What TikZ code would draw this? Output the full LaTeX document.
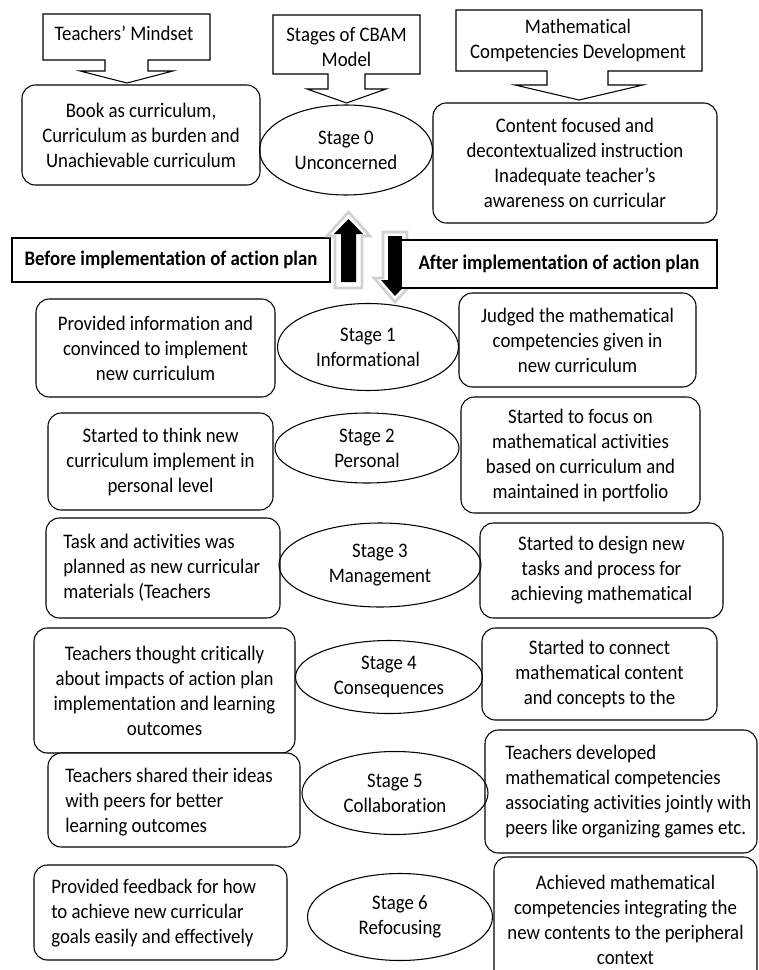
\documentclass[tikz,border=0pt]{standalone}
\usepackage{fontspec}
\setmainfont{Carlito}[FakeStretch=0.91, Ligatures={TeX,NoCommon}]
\usetikzlibrary{shapes.geometric}
\tikzset{
  every node/.style={font=\fontsize{15.5}{18.75}\selectfont, inner sep=0pt},
  sz/.style 2 args={minimum width=#1*0.75pt, minimum height=#2*0.75pt},
  rbox/.style={draw, line width=0.8pt, rounded corners=10pt, align=center},
  frame/.style={draw, line width=0.8pt, rounded corners=10pt},
  ltext/.style={anchor=west, align=left},
  stage/.style={draw, line width=0.8pt, ellipse, align=center},
  callout/.style={draw, line width=0.8pt, fill=white},
  plainbox/.style={draw, line width=0.8pt, fill=white, font=\fontsize{15.5}{18.75}\selectfont\bfseries},
  blkarrow/.style={fill=black},
  bevel/.style={draw=gray!35, line width=2pt, fill=white},
}
\begin{document}
\begin{tikzpicture}[x=0.75pt,y=-0.75pt]
\clip (0,0) rectangle (758,970);
\fill[white] (0,0) rectangle (758,970);

% top callouts
\draw[callout] (43,14) -- (210,14) -- (210,60) -- (148,60) -- (148,71) -- (173,71) -- (127,83) -- (80,71) -- (105,71) -- (105,60) -- (43,60) -- cycle;
\node (tm) at (124,33) {Teachers’ Mindset};

\draw[callout] (273,15) -- (420,15) -- (420,74) -- (365,74) -- (365,89) -- (386,89) -- (346.5,103) -- (307,89) -- (328,89) -- (328,74) -- (273,74) -- cycle;
\node[align=center] (cbam) at (346.5,47) {Stages of CBAM\\Model};

\draw[callout] (456,10) -- (702,10) -- (702,71) -- (608,71) -- (608,85) -- (643,85) -- (579,100) -- (515,85) -- (547,85) -- (547,71) -- (456,71) -- cycle;
\node[align=center] (mcd) at (578,40) {Mathematical\\Competencies Development};

% stage 0 row
\node[rbox, sz={238}{100}] (book) at (141,135) {Book as curriculum,\\Curriculum as burden and\\Unachievable curriculum};
\node[stage, sz={173}{90}] (s0) at (346,150) {Stage 0\\Unconcerned};
\node[rbox, sz={284}{120}] (content) at (575,163) {Content focused and\\decontextualized instruction\\Inadequate teacher’s\\awareness on curricular};

% before / after
\node[plainbox, sz={318}{44}] (before) at (171,260) {Before implementation of action plan};
\draw[bevel] (335,288) -- (335,236) -- (327,236) -- (348.5,212) -- (370,236) -- (362,236) -- (362,288) -- cycle;
\fill[blkarrow] (341,282) -- (341,234) -- (334,234) -- (348.5,219) -- (363,234) -- (356,234) -- (356,282) -- cycle;
\draw[bevel] (383,232) -- (407,232) -- (407,278) -- (417,278) -- (395,302) -- (374,278) -- (383,278) -- cycle;
\fill[blkarrow] (388,236) -- (402,236) -- (402,280) -- (410,280) -- (395,296) -- (381,280) -- (388,280) -- cycle;
\node[plainbox, sz={316}{48}] (after) at (559,264) {After implementation of action plan};

% stage 1
\node[rbox, sz={239}{98}] (provided) at (155.5,348) {Provided information and\\convinced to implement\\new curriculum};
\node[stage, sz={181}{87}] (s1) at (368,347) {Stage 1\\Informational};
\node[rbox, sz={237}{94}] (judged) at (577.5,340) {Judged the mathematical\\competencies given in\\new curriculum};

% stage 2
\node[rbox, sz={225}{97}] (think) at (160.5,461.5) {Started to think new\\curriculum implement in\\personal level};
\node[stage, sz={184}{70}] (s2) at (367,448) {Stage 2\\Personal};
\node[rbox, sz={239}{116}] (focus) at (580.5,455) {Started to focus on\\mathematical activities\\based on curriculum and\\maintained in portfolio};

% stage 3
\node[frame, sz={234}{100}] (taskbox) at (163,568) {};
\node[ltext] (task) at (63,568) {Task and activities was\\planned as new curricular\\materials (Teachers};
\node[stage, sz={202}{84}] (s3) at (380,565) {Stage 3\\Management};
\node[rbox, sz={243}{95}] (design) at (601.5,570.5) {Started to design new\\tasks and process for\\achieving mathematical};

% stage 4
\node[rbox, sz={261}{125}] (thought) at (164.5,690.5) {Teachers thought critically\\about impacts of action plan\\implementation and learning\\outcomes};
\node[stage, sz={187}{73}] (s4) at (389,677) {Stage 4\\Consequences};
\node[rbox, sz={235}{92}] (connect) at (599.5,674) {Started to connect\\mathematical content\\and concepts to the};

% stage 5
\node[frame, sz={252}{94}, fill=white] (sharedbox) at (174,800) {};
\node[ltext] (shared) at (65,802) {Teachers shared their ideas\\with peers for better\\learning outcomes};
\node[stage, sz={186}{83}] (s5) at (395,793) {Stage 5\\Collaboration};
\node[frame, sz={272}{123}] (developedbox) at (621,791.5) {};
\node[ltext] (developed) at (505,791.5) {Teachers developed\\mathematical competencies\\associating activities jointly with\\peers like organizing games etc.};

% stage 6
\node[frame, sz={253}{95}] (feedbackbox) at (160.5,912.5) {};
\node[ltext] (feedback) at (51,913) {Provided feedback for how\\to achieve new curricular\\goals easily and effectively};
\node[stage, sz={185}{87}] (s6) at (400,917) {Stage 6\\Refocusing};
\node[rbox, sz={263}{126}] (achieved) at (625.5,920) {Achieved mathematical\\competencies integrating the\\new contents to the peripheral\\context};
\end{tikzpicture}
\end{document}
